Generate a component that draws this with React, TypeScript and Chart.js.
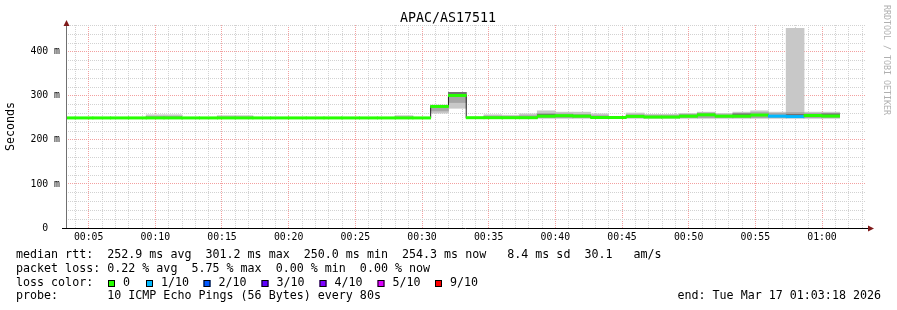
import React, { useEffect, useRef } from 'react';
import { Chart, registerables } from 'chart.js';

Chart.register(...registerables);

const FONT = '"DejaVu Sans Mono", "Liberation Mono", monospace';

// ---- data ----
const chartTitle = 'APAC/AS17511';
const windowStart = '00:03:18';
const windowEnd = '01:03:18';
const binStarts = [
  '00:02:39', '00:03:59', '00:05:19', '00:06:39', '00:07:59', '00:09:19', '00:10:39', '00:11:59',
  '00:13:19', '00:14:39', '00:15:59', '00:17:19', '00:18:39', '00:19:59', '00:21:19', '00:22:39',
  '00:23:59', '00:25:19', '00:26:39', '00:27:59', '00:29:19', '00:30:39', '00:31:59', '00:33:19',
  '00:34:39', '00:35:59', '00:37:19', '00:38:39', '00:39:59', '00:41:19', '00:42:39', '00:43:59',
  '00:45:19', '00:46:39', '00:47:59', '00:49:19', '00:50:39', '00:51:59', '00:53:19', '00:54:39',
  '00:55:59', '00:57:19', '00:58:39', '00:59:59',
];
const binEnd = '01:01:19';
const binSeconds = 80;

const medianMs = [
  250, 250, 250, 250, 250, 250, 250, 250, 250, 250, 250, 250, 250, 250, 250, 250,
  250, 250, 250, 250, 250, 276, 301, 250.5, 250.5, 250.5, 250.5, 254, 255, 254, 251, 251,
  253.5, 252, 252, 254, 257, 254, 254, 256.5, 254, 253, 255.5, 254.3,
];
const smokeMin = [
  250, 250, 250, 250, 250, 250, 250, 250, 250, 250, 250, 250, 250, 250, 250, 250,
  250, 250, 250, 250, 250, 261, 272, 250, 250, 250, 250, 250, 250, 250, 250, 250,
  250, 250, 250, 250, 250, 250, 250, 250, 250, 250, 250, 250,
];
const smokeMax = [
  250, 250, 250, 250, 250, 257, 257, 250, 250, 255, 255, 250, 250, 250, 250, 250,
  250, 250, 250, 255, 250, 279, 308, 251, 257, 256, 259, 266, 263, 263, 259, 252,
  261, 258, 258, 260, 263, 260, 263, 266, 263, 453, 263, 263,
];
const smokeMidLo = [
  250, 250, 250, 250, 250, 250, 250, 250, 250, 250, 250, 250, 250, 250, 250, 250,
  250, 250, 250, 250, 250, 266, 285, 250, 250, 250, 250, 250, 250, 250, 250, 250,
  250, 250, 250, 250, 250, 250, 250, 250, 250, 250, 250, 250,
];
const smokeMidHi = [
  250, 250, 250, 250, 250, 253, 253, 250, 250, 252, 252, 250, 250, 250, 250, 250,
  250, 250, 250, 252, 250, 278, 307, 251, 254, 253, 255, 260, 259, 258, 255, 251,
  257, 255, 255, 258, 261, 257, 260, 262, 260, 262, 260, 260,
];
const smokeInnerLo = [
  null, null, null, null, null, null, null, null, null, null, null, null, null, null, null, null,
  null, null, null, null, null, null, 300, null, null, null, null, 254, null, null, null, null,
  null, null, null, null, null, null, 254, null, null, 253, null, 254,
];
const smokeInnerHi = [
  null, null, null, null, null, null, null, null, null, null, null, null, null, null, null, null,
  null, null, null, null, null, null, 308, null, null, null, null, 258, null, null, null, null,
  null, null, null, null, null, null, 259, null, null, 258, null, 259,
];
// index into lossColors / lossLabels
const lossLevel = [
  0, 0, 0, 0, 0, 0, 0, 0, 0, 0, 0, 0, 0, 0, 0, 0,
  0, 0, 0, 0, 0, 0, 0, 0, 0, 0, 0, 0, 0, 0, 0, 0,
  0, 0, 0, 0, 0, 0, 0, 0, 1, 1, 0, 0,
];
const lossLabels = ['0', '1/10', '2/10', '3/10', '4/10', '5/10', '9/10'];
const lossColors = ['#26ff00', '#00b8ff', '#0059ff', '#5e00ff', '#7e00ff', '#dd00ff', '#ff0000'];

const yMajorStep = 100;
const yMinorStep = 20;
const yTopTick = 460;
const xMajorMinutes = 5;

const legendLines = [
  'median rtt:  252.9 ms avg  301.2 ms max  250.0 ms min  254.3 ms now   8.4 ms sd  30.1   am/s',
  'packet loss: 0.22 % avg  5.75 % max  0.00 % min  0.00 % now',
  'loss color:',
  'probe:       10 ICMP Echo Pings (56 Bytes) every 80s',
];
const endLabel = 'end: Tue Mar 17 01:03:18 2026';
const watermark = 'RRDTOOL / TOBI OETIKER';

// ---- helpers ----
const toMinutes = (s: string) => {
  const [h, m, sec] = s.split(':').map(Number);
  return h * 60 + m + sec / 60;
};
const pad2 = (n: number) => String(n).padStart(2, '0');

const MINOR = '#d2d2d2';
const MAJOR = '#f3a0a0';

export default function App() {
  const ref = useRef<HTMLCanvasElement>(null);

  useEffect(() => {
    const canvas = ref.current;
    if (!canvas) return;

    const starts = binStarts.map(toMinutes);
    const centers = starts.map((s) => s + binSeconds / 120);
    const bandHalf = 2.5;
    const xMin = toMinutes(windowStart);
    const xMax = toMinutes(windowEnd);
    const xTicks: number[] = [];
    for (let v = Math.ceil(xMin); v <= xMax; v += 1) xTicks.push(v);
    const yTicks: number[] = [];
    for (let v = 0; v <= yTopTick; v += yMinorStep) yTicks.push(v);

    const barCommon: any = {
      type: 'bar',
      grouped: false,
      categoryPercentage: 1,
      barPercentage: binSeconds / 60,
      inflateAmount: 0.4,
      borderWidth: 0,
      clip: 0,
    };

    const overlay = {
      id: 'smokepingOverlay',
      afterDraw(chart: any) {
        const ctx = chart.ctx as CanvasRenderingContext2D;
        const { left, right, top, bottom } = chart.chartArea;
        ctx.save();
        // axes
        ctx.lineWidth = 1;
        ctx.strokeStyle = '#707070';
        ctx.beginPath();
        ctx.moveTo(left + 0.5, bottom + 0.5);
        ctx.lineTo(left + 0.5, top - 2);
        ctx.stroke();
        ctx.strokeStyle = '#000000';
        ctx.beginPath();
        ctx.moveTo(left - 4, bottom + 0.5);
        ctx.lineTo(right + 3, bottom + 0.5);
        ctx.stroke();
        // arrows
        ctx.fillStyle = '#7f1a1a';
        ctx.beginPath();
        ctx.moveTo(left + 0.5, top - 5);
        ctx.lineTo(left - 2.5, top + 1);
        ctx.lineTo(left + 3.5, top + 1);
        ctx.closePath();
        ctx.fill();
        ctx.beginPath();
        ctx.moveTo(right + 8, bottom + 0.5);
        ctx.lineTo(right + 2, bottom - 2.5);
        ctx.lineTo(right + 2, bottom + 3.5);
        ctx.closePath();
        ctx.fill();

        // title
        ctx.fillStyle = '#000000';
        ctx.font = `13.3px ${FONT}`;
        ctx.textAlign = 'center';
        ctx.textBaseline = 'middle';
        ctx.fillText(chartTitle, 448, 19);

        // watermark
        ctx.save();
        ctx.translate(886, 60);
        ctx.rotate(Math.PI / 2);
        ctx.fillStyle = '#b0b0b0';
        ctx.font = `8.3px ${FONT}`;
        ctx.fillText(watermark, 0, 0);
        ctx.restore();

        // legend
        ctx.fillStyle = '#000000';
        ctx.font = `11.67px ${FONT}`;
        ctx.textAlign = 'left';
        ctx.textBaseline = 'middle';
        const lineY = [255, 268.8, 282.6, 296.4];
        legendLines.forEach((t, i) => ctx.fillText(t, 16, lineY[i]));
        const boxX = [108, 146, 203.5, 261.5, 319.5, 377.5, 435];
        lossLabels.forEach((lab, i) => {
          const bx = boxX[i];
          const by = Math.round(lineY[2]) - 3;
          ctx.fillStyle = lossColors[i];
          ctx.fillRect(bx, by, 7, 7);
          ctx.strokeStyle = '#000000';
          ctx.strokeRect(bx + 0.5, by + 0.5, 6, 6);
          ctx.fillStyle = '#000000';
          ctx.fillText(lab, bx + 15, lineY[2]);
        });
        ctx.textAlign = 'right';
        ctx.fillText(endLabel, 881, lineY[3]);
        ctx.restore();
      },
    };

    const chart = new Chart(canvas, {
      type: 'bar',
      data: {
        datasets: [
          {
            ...barCommon,
            label: 'median',
            order: 0,
            data: centers.map((x, i) => ({ x, y: [medianMs[i] - bandHalf, medianMs[i] + bandHalf] })),
            backgroundColor: lossLevel.map((l) => lossColors[l]),
          },
          {
            type: 'line',
            label: 'median line',
            order: 1,
            data: [
              ...starts.map((x, i) => ({ x, y: medianMs[i] })),
              { x: toMinutes(binEnd), y: medianMs[medianMs.length - 1] },
            ],
            stepped: true,
            borderColor: '#202020',
            borderWidth: 1,
            pointRadius: 0,
            fill: false,
            clip: 0,
          } as any,
          {
            ...barCommon,
            label: 'smoke inner',
            order: 2,
            data: centers.map((x, i) => ({
              x,
              y: smokeInnerLo[i] == null ? null : [smokeInnerLo[i], smokeInnerHi[i]],
            })),
            backgroundColor: '#727272',
          },
          {
            ...barCommon,
            label: 'smoke mid',
            order: 3,
            data: centers.map((x, i) => ({ x, y: [smokeMidLo[i], smokeMidHi[i]] })),
            backgroundColor: '#a6a6a6',
          },
          {
            ...barCommon,
            label: 'smoke outer',
            order: 4,
            data: centers.map((x, i) => ({ x, y: [smokeMin[i], smokeMax[i]] })),
            backgroundColor: '#c8c8c8',
          },
        ] as any,
      },
      options: {
        responsive: false,
        animation: false,
        devicePixelRatio: 1,
        events: [],
        layout: { padding: { top: 25, right: 31, left: 0, bottom: 0 } },
        plugins: {
          legend: { display: false },
          tooltip: { enabled: false },
          title: { display: false },
        },
        scales: {
          x: {
            type: 'linear',
            min: xMin,
            max: xMax,
            offset: false,
            afterBuildTicks: (s: any) => {
              s.ticks = xTicks.map((v) => ({ value: v }));
            },
            afterFit: (s: any) => {
              s.height = 82;
            },
            grid: {
              offset: false,
              drawTicks: false,
              lineWidth: 1,
              color: (c: any) => (c.tick && c.tick.value % xMajorMinutes === 0 ? MAJOR : MINOR),
            },
            border: { display: false, dash: [1, 1] },
            ticks: {
              autoSkip: false,
              maxRotation: 0,
              minRotation: 0,
              padding: 4,
              color: '#000000',
              font: { family: FONT, size: 9.8 },
              callback: (v: any) =>
                v % xMajorMinutes === 0 ? `${pad2(Math.floor(v / 60))}:${pad2(v % 60)}` : '',
            },
          },
          y: {
            type: 'linear',
            min: 0,
            max: 461,
            afterBuildTicks: (s: any) => {
              s.ticks = yTicks.map((v) => ({ value: v }));
            },
            afterFit: (s: any) => {
              s.width = 66;
            },
            grid: {
              drawTicks: false,
              lineWidth: 1,
              color: (c: any) => (c.tick && c.tick.value % yMajorStep === 0 ? MAJOR : MINOR),
            },
            border: { display: false, dash: [1, 1] },
            ticks: {
              autoSkip: false,
              padding: 6,
              color: '#000000',
              font: { family: FONT, size: 9.8 },
              callback: (v: any) =>
                v % yMajorStep === 0 ? (v === 0 ? '0  ' : `${v} m`) : '',
            },
            title: {
              display: true,
              text: 'Seconds',
              color: '#000000',
              font: { family: FONT, size: 11.67 },
              padding: { top: 4, bottom: 0 },
            },
          },
        },
      } as any,
      plugins: [overlay],
    });

    return () => chart.destroy();
  }, []);

  return (
    <div style={{ position: 'absolute', left: 0, top: 0, width: 897, height: 310, background: '#fff' }}>
      <canvas ref={ref} width={897} height={310} style={{ display: 'block', width: 897, height: 310 }} />
    </div>
  );
}
